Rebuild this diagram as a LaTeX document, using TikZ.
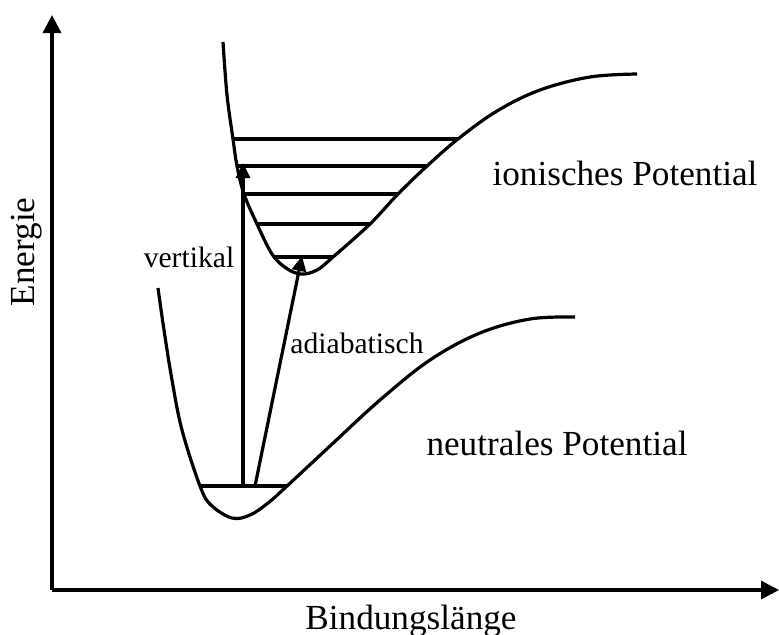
\documentclass[tikz,border=0pt]{standalone}
\usepackage{fontspec}
\setmainfont{Liberation Serif}
\usetikzlibrary{arrows.meta}

\tikzset{
  axisarrow/.style={-{Triangle[length=9pt,width=9pt]}},
  jumparrow/.style={-{Triangle[length=7.5pt,width=7pt]}},
  biglabel/.style={font=\fontsize{17.6}{20}\selectfont, inner sep=0pt, anchor=base},
  smalllabel/.style={font=\fontsize{14.8}{17}\selectfont, inner sep=0pt, anchor=base}
}

\begin{document}
\begin{tikzpicture}[x=0.5pt, y=-0.5pt, line width=1.6pt, line join=round]
  \useasboundingbox (0,0) rectangle (779,634);

  % ───────── Axes ─────────
  \coordinate (origin) at (52,590);
  \coordinate (ytip) at (52,15);
  \coordinate (xtip) at (779,590);
  \draw[axisarrow] (origin) -- (ytip);
  \draw[axisarrow] (origin) -- (xtip);
  \node[biglabel, rotate=90] (energy) at (34,252) {Energie};
  \node[biglabel] (bondlength) at (411,629) {Bindungslänge};

  % ───────── Ionic potential ─────────
  \draw plot[smooth, tension=0.6] coordinates {
    (223,42) (227,95) (233,139) (237,166) (244,194) (257,224) (272,254)
    (286,268) (301,274) (317,270) (333,257) (370,224) (398,194) (427,166)
    (458,139) (497,111) (540,90) (590,77) (637,74)};
  % vibrational levels (y, left end, right end)
  \foreach \y/\l/\r in {139/233/458, 166/237/427, 194/244/398, 224/257/370, 257/273/333}
    \draw (\l,\y) -- (\r,\y);
  \node[biglabel] (ionic) at (625,185) {ionisches Potential};

  % ───────── Neutral potential ─────────
  \draw plot[smooth, tension=0.6] coordinates {
    (158,288) (164,330) (172,380) (182,430) (200,486) (211,505) (232,518)
    (250,515) (268,503) (287,486) (330,446) (380,400) (430,360) (480,333)
    (530,319) (575,317)};
  \coordinate (ground) at (200,486);
  \draw (ground) -- (287,486);
  \node[biglabel] (neutral) at (557,455) {neutrales Potential};

  % ───────── Transitions ─────────
  \coordinate (vstart) at (243,486);
  \coordinate (vend) at (243,163);
  \coordinate (astart) at (255,486);
  \coordinate (aend) at (302,256);
  \draw[jumparrow] (vstart) -- (vend);
  \draw[jumparrow] (astart) -- (aend);
  \node[smalllabel] (vertical) at (189,267) {vertikal};
  \node[smalllabel] (adiabatic) at (357,353) {adiabatisch};

\end{tikzpicture}
\end{document}
